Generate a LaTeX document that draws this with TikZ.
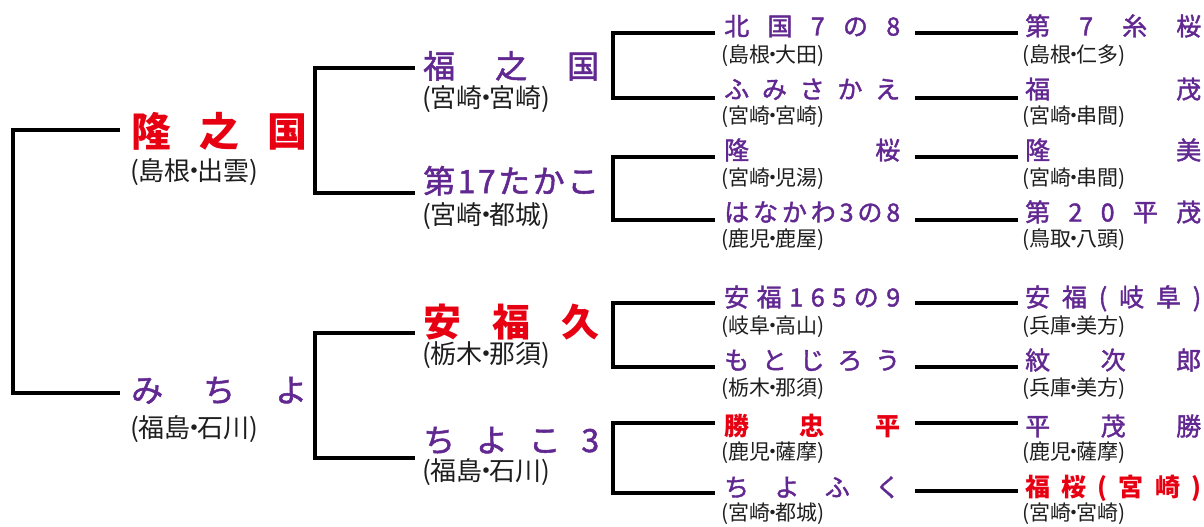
\documentclass[tikz,border=0pt]{standalone}
\usepackage{fontspec}
\setmainfont{Noto Sans CJK JP}
\usepackage{xcolor}
\usepackage{tikz}
\usetikzlibrary{positioning}

\definecolor{namepurple}{RGB}{98,40,145}
\definecolor{namered}{RGB}{230,0,18}
\definecolor{origingray}{RGB}{30,30,30}

\newcommand{\spreadname}[1]{\makebox[176pt][s]{#1}}
\newcommand{\nakaguro}{\kern-.38em\relax ・\kern-.38em\relax}

\begin{document}
\begin{tikzpicture}[x=1pt, y=-1pt,
  every node/.style={inner sep=0pt, anchor=base west},
  pn/.style={text=namepurple, font=\fontsize{#1}{#1}\selectfont\addfontfeature{FakeBold=1.6}},
  rn/.style={text=namered, font=\fontsize{#1}{#1}\selectfont\bfseries},
  origin/.style={text=origingray, font=\fontsize{#1}{#1}\selectfont},
  pedline/.style={line width=4pt}]
\useasboundingbox (0,0) rectangle (1204,527);

\node[rn=40] (s) at (131,146) {\spreadname{隆\hfill 之\hfill 国}};
\node[origin=26] (s-o) at (130,180.5) {(島根\nakaguro 出雲)};
\node[pn=32] (d) at (131,402) {\spreadname{み\hfill ち\hfill よ}};
\node[origin=26] (d-o) at (130,437.5) {(福島\nakaguro 石川)};

\node[pn=32] (ss) at (423,78) {\spreadname{福\hfill 之\hfill 国}};
\node[origin=26] (ss-o) at (422,107.5) {(宮崎\nakaguro 宮崎)};
\node[pn=32] (sd) at (423,193) {\spreadname{第\hfill 1\hfill 7\hfill た\hfill か\hfill こ}};
\node[origin=26] (sd-o) at (422,224.5) {(宮崎\nakaguro 都城)};
\node[rn=38] (ds) at (423,336) {\spreadname{安\hfill 福\hfill 久}};
\node[origin=26] (ds-o) at (422,363.5) {(栃木\nakaguro 那須)};
\node[pn=32] (dd) at (423,452) {\spreadname{ち\hfill よ\hfill こ\hfill 3}};
\node[origin=26] (dd-o) at (422,480.5) {(福島\nakaguro 石川)};

\node[pn=25] (sss) at (724,35.5) {\spreadname{北\hfill 国\hfill 7\hfill の\hfill 8}};
\node[origin=21] (sss-o) at (721,62.6) {(島根\nakaguro 大田)};
\node[pn=25] (ssd) at (724,98.5) {\spreadname{ふ\hfill み\hfill さ\hfill か\hfill え}};
\node[origin=21] (ssd-o) at (721,123.6) {(宮崎\nakaguro 宮崎)};
\node[pn=25] (sds) at (724,159.5) {\spreadname{隆\hfill 桜}};
\node[origin=21] (sds-o) at (721,185.6) {(宮崎\nakaguro 児湯)};
\node[pn=25] (sdd) at (724,221.5) {\spreadname{は\hfill な\hfill か\hfill わ\hfill 3\hfill の\hfill 8}};
\node[origin=21] (sdd-o) at (721,246.6) {(鹿児\nakaguro 鹿屋)};
\node[pn=25] (dss) at (724,306.5) {\spreadname{安\hfill 福\hfill 1\hfill 6\hfill 5\hfill の\hfill 9}};
\node[origin=21] (dss-o) at (721,333.6) {(岐阜\nakaguro 高山)};
\node[pn=25] (dsd) at (724,369.5) {\spreadname{も\hfill と\hfill じ\hfill ろ\hfill う}};
\node[origin=21] (dsd-o) at (721,395.6) {(栃木\nakaguro 那須)};
\node[rn=25] (dds) at (724,435.5) {\spreadname{勝\hfill 忠\hfill 平}};
\node[origin=21] (dds-o) at (721,459.6) {(鹿児\nakaguro 薩摩)};
\node[pn=25] (ddd) at (724,496.5) {\spreadname{ち\hfill よ\hfill ふ\hfill く}};
\node[origin=21] (ddd-o) at (721,520.6) {(宮崎\nakaguro 都城)};

\node[pn=25] (ssss) at (1025,35.5) {\spreadname{第\hfill 7\hfill 糸\hfill 桜}};
\node[origin=21] (ssss-o) at (1022,62.6) {(島根\nakaguro 仁多)};
\node[pn=25] (ssds) at (1025,98.5) {\spreadname{福\hfill 茂}};
\node[origin=21] (ssds-o) at (1022,123.6) {(宮崎\nakaguro 串間)};
\node[pn=25] (sdss) at (1025,159.5) {\spreadname{隆\hfill 美}};
\node[origin=21] (sdss-o) at (1022,185.6) {(宮崎\nakaguro 串間)};
\node[pn=25] (sdds) at (1025,221.5) {\spreadname{第\hfill 2\hfill 0\hfill 平\hfill 茂}};
\node[origin=21] (sdds-o) at (1022,246.6) {(鳥取\nakaguro 八頭)};
\node[pn=25] (dsss) at (1025,306.5) {\spreadname{安\hfill 福\hfill (\hfill 岐\hfill 阜\hfill )}};
\node[origin=21] (dsss-o) at (1022,333.6) {(兵庫\nakaguro 美方)};
\node[pn=25] (dsds) at (1025,369.5) {\spreadname{紋\hfill 次\hfill 郎}};
\node[origin=21] (dsds-o) at (1022,395.6) {(兵庫\nakaguro 美方)};
\node[pn=25] (ddss) at (1025,435.5) {\spreadname{平\hfill 茂\hfill 勝}};
\node[origin=21] (ddss-o) at (1022,459.6) {(鹿児\nakaguro 薩摩)};
\node[rn=25] (ddds) at (1025,496.5) {\spreadname{福\hfill 桜\hfill (\hfill 宮\hfill 崎\hfill )}};
\node[origin=21] (ddds-o) at (1022,520.6) {(宮崎\nakaguro 宮崎)};

\draw[pedline] ([xshift=-11pt,yshift=16pt]s.base west) -- ++(-107,0) |- ([xshift=-11pt,yshift=9pt]d.base west);

\draw[pedline] ([xshift=-8pt,yshift=10pt]ss.base west) -- ++(-100,0) |- ([xshift=-8pt]sd.base west);
\draw[pedline] ([xshift=-8pt,yshift=3pt]ds.base west) -- ++(-100,0) |- ([xshift=-8pt,yshift=-6pt]dd.base west);

\draw[pedline] ([xshift=-9pt,yshift=2.5pt]sss.base west) -- ++(-102,0) |- ([xshift=-9pt,yshift=1pt]ssd.base west);
\draw[pedline] ([xshift=-9pt,yshift=2.5pt]sds.base west) -- ++(-102,0) |- ([xshift=-9pt,yshift=1.5pt]sdd.base west);
\draw[pedline] ([xshift=-9pt,yshift=3.5pt]dss.base west) -- ++(-102,0) |- ([xshift=-9pt,yshift=2.5pt]dsd.base west);
\draw[pedline] ([xshift=-9pt,yshift=12.5pt]dds.base west) -- ++(-102,0) |- ([xshift=-9pt,yshift=3.5pt]ddd.base west);

\draw[pedline] ([xshift=15pt,yshift=2.5pt]sss.base east) -- ([xshift=-7pt,yshift=2.5pt]ssss.base west);
\draw[pedline] ([xshift=15pt,yshift=1pt]ssd.base east) -- ([xshift=-7pt,yshift=1pt]ssds.base west);
\draw[pedline] ([xshift=15pt,yshift=2.5pt]sds.base east) -- ([xshift=-7pt,yshift=2.5pt]sdss.base west);
\draw[pedline] ([xshift=15pt,yshift=1.5pt]sdd.base east) -- ([xshift=-7pt,yshift=1.5pt]sdds.base west);
\draw[pedline] ([xshift=15pt,yshift=3.5pt]dss.base east) -- ([xshift=-7pt,yshift=3.5pt]dsss.base west);
\draw[pedline] ([xshift=15pt,yshift=2.5pt]dsd.base east) -- ([xshift=-7pt,yshift=2.5pt]dsds.base west);
\draw[pedline] ([xshift=15pt,yshift=12.5pt]dds.base east) -- ([xshift=-7pt,yshift=12.5pt]ddss.base west);
\draw[pedline] ([xshift=15pt,yshift=5.5pt]ddd.base east) -- ([xshift=-7pt,yshift=5.5pt]ddds.base west);
\end{tikzpicture}
\end{document}
